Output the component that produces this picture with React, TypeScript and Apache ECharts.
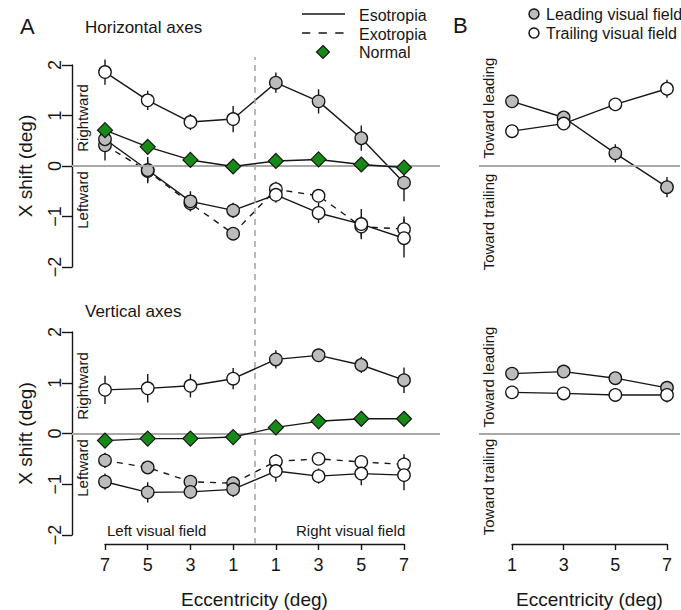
import { useEffect, useRef } from 'react';
import * as echarts from 'echarts';

// ---------- data ----------
const eccLabelsA = ['7', '5', '3', '1', '1', '3', '5', '7'];
const eccLabelsB = ['1', '3', '5', '7'];
const eccB = [1, 3, 5, 7];

// Panel A, horizontal axes (x index 0..7: left 7,5,3,1 | right 1,3,5,7)
const hEsoUpper = [1.86, 1.30, 0.87, 0.93, 1.65, 1.28, 0.55, -0.33];
const hEsoUpperErr = [0.25, 0.19, 0.16, 0.26, 0.2, 0.24, 0.25, 0.37];
const hEsoUpperField = ['T', 'T', 'T', 'T', 'L', 'L', 'L', 'L'];
const hEsoLower = [0.53, -0.08, -0.7, -0.88, -0.57, -0.93, -1.15, -1.43];
const hEsoLowerErr = [0.2, 0.26, 0.2, 0.15, 0.16, 0.2, 0.3, 0.38];
const hEsoLowerField = ['L', 'L', 'L', 'L', 'T', 'T', 'T', 'T'];
const hExo = [0.41, -0.1, -0.74, -1.34, -0.46, -0.59, -1.2, -1.25];
const hExoErr = [0.3, 0.2, 0.15, 0.1, 0.15, 0.12, 0.2, 0.25];
const hExoField = ['L', 'L', 'L', 'L', 'T', 'T', 'T', 'T'];
const hNormal = [0.71, 0.38, 0.12, -0.01, 0.1, 0.13, 0.03, -0.03];

// Panel A, vertical axes
const vEsoUpper = [0.86, 0.89, 0.94, 1.08, 1.46, 1.54, 1.35, 1.05];
const vEsoUpperErr = [0.28, 0.28, 0.23, 0.21, 0.18, 0.1, 0.16, 0.25];
const vEsoUpperField = ['T', 'T', 'T', 'T', 'L', 'L', 'L', 'L'];
const vEsoLower = [-0.95, -1.16, -1.15, -1.1, -0.74, -0.84, -0.79, -0.82];
const vEsoLowerErr = [0.16, 0.2, 0.14, 0.15, 0.21, 0.15, 0.23, 0.3];
const vEsoLowerField = ['L', 'L', 'L', 'L', 'T', 'T', 'T', 'T'];
const vExo = [-0.53, -0.67, -0.95, -0.98, -0.55, -0.5, -0.56, -0.61];
const vExoErr = [0.15, 0.12, 0.1, 0.1, 0.14, 0.12, 0.12, 0.2];
const vExoField = ['L', 'L', 'L', 'L', 'T', 'T', 'T', 'T'];
const vNormal = [-0.14, -0.1, -0.1, -0.07, 0.12, 0.24, 0.29, 0.29];

// Panel B
const bHLeading = [1.28, 0.96, 0.25, -0.42];
const bHLeadingErr = [0.08, 0.1, 0.18, 0.2];
const bHTrailing = [0.69, 0.84, 1.22, 1.53];
const bHTrailingErr = [0.05, 0.08, 0.1, 0.18];
const bVLeading = [1.18, 1.22, 1.09, 0.9];
const bVLeadingErr = [0.05, 0.05, 0.05, 0.1];
const bVTrailing = [0.81, 0.79, 0.76, 0.76];
const bVTrailingErr = [0.05, 0.05, 0.05, 0.15];

// ---------- styling ----------
const FONT = '"Liberation Sans", Arial, Helvetica, sans-serif';
const INK = '#161616';
const GRAY = '#bcbcbc';
const WHITE = '#ffffff';
const GREEN = '#168a16';
const REF = '#a8a8a8';

// layout (pixels)
const A_LEFT = 72, A_X0 = 105, A_X7 = 404, A_RIGHT = 440;
const B_LEFT = 479, B_X1 = 512, B_X7 = 667, B_RIGHT = 680;
const TOP_T = 65, TOP_H = 202, BOT_T = 332, BOT_H = 203;
const AXIS_Y = 544;

const aStep = (A_X7 - A_X0) / 7;
const aMin = -(A_X0 - A_LEFT) / aStep;
const aMax = 7 + (A_RIGHT - A_X7) / aStep;
const bStep = (B_X7 - B_X1) / 6;
const bMin = 1 - (B_X1 - B_LEFT) / bStep;
const bMax = 7 + (B_RIGHT - B_X7) / bStep;

function lineSeries(values: number[], xs: number[], fields: string[] | null, dashed: boolean, axis: number, z = 4): any {
  return {
    type: 'line',
    xAxisIndex: axis,
    yAxisIndex: axis,
    data: values.map((v, i) => ({
      value: [xs[i], v],
      itemStyle: { color: fields ? (fields[i] === 'L' ? GRAY : WHITE) : WHITE },
    })),
    symbol: 'circle',
    symbolSize: 12.5,
    showSymbol: true,
    clip: false,
    z,
    silent: true,
    lineStyle: { color: INK, width: 1.4, type: dashed ? [6, 6] : 'solid' },
    itemStyle: { borderColor: INK, borderWidth: 1.3 },
  };
}

function normalSeries(values: number[], axis: number): any {
  return {
    type: 'line',
    xAxisIndex: axis,
    yAxisIndex: axis,
    data: values.map((v, i) => [i, v]),
    symbol: 'diamond',
    symbolSize: 15,
    clip: false,
    z: 5,
    silent: true,
    lineStyle: { color: INK, width: 1.4 },
    itemStyle: { color: GREEN, borderColor: INK, borderWidth: 1.2 },
  };
}

function errSeries(values: number[], xs: number[], errs: number[], axis: number): any {
  return {
    type: 'custom',
    xAxisIndex: axis,
    yAxisIndex: axis,
    data: values.map((v, i) => [xs[i], v, errs[i]]),
    clip: false,
    silent: true,
    z: 3,
    renderItem: (_p: any, api: any) => {
      const x = api.value(0), y = api.value(1), e = api.value(2);
      const p1 = api.coord([x, y + e]);
      const p2 = api.coord([x, y - e]);
      return {
        type: 'line',
        shape: { x1: p1[0], y1: p1[1], x2: p2[0], y2: p2[1] },
        style: { stroke: INK, lineWidth: 1.4 },
      };
    },
  };
}

function zeroLine(axis: number): any {
  return {
    type: 'line',
    xAxisIndex: axis,
    yAxisIndex: axis,
    data: [],
    z: 1,
    silent: true,
    markLine: {
      symbol: 'none',
      silent: true,
      label: { show: false },
      lineStyle: { color: REF, width: 2, type: 'solid' },
      data: [{ yAxis: 0 }],
    },
  };
}

const idxA = eccLabelsA.map((_, i) => i);

function txt(text: string, x: number, y: number, size: number, opts: any = {}): any {
  return {
    type: 'text',
    x,
    y,
    rotation: opts.rotation || 0,
    silent: true,
    style: {
      text,
      x: 0,
      y: 0,
      fill: INK,
      font: `${size}px ${FONT}`,
      align: opts.align || 'left',
      textAlign: opts.align || 'left',
      verticalAlign: 'middle',
      textVerticalAlign: 'middle',
    },
  };
}

const dataYAxis = (show: boolean, gridIndex: number): any => ({
  type: 'value',
  gridIndex,
  min: -2,
  max: 2,
  interval: 1,
  show,
  name: show ? 'X shift (deg)' : '',
  nameLocation: 'middle',
  nameRotate: 90,
  nameGap: 37,
  nameTextStyle: { color: INK, fontSize: 19, fontFamily: FONT },
  axisLine: { show: true, onZero: false, lineStyle: { color: INK, width: 1.4 } },
  axisTick: { show: true, length: 10, inside: false, lineStyle: { color: INK, width: 1.4 } },
  axisLabel: {
    show: true,
    rotate: 90,
    margin: 8,
    color: INK,
    fontSize: 18,
    fontFamily: FONT,
    formatter: (v: number) => (v < 0 ? '\u2212' + Math.abs(v) : String(v)),
  },
  splitLine: { show: false },
});

export default function App() {
  const ref = useRef<HTMLDivElement>(null);

  useEffect(() => {
    document.body.style.margin = '0';
    if (!ref.current) return;
    const chart = echarts.init(ref.current, undefined, { renderer: 'svg' });

    const grids = [
      { left: A_LEFT, top: TOP_T, width: A_RIGHT - A_LEFT, height: TOP_H },
      { left: A_LEFT, top: BOT_T, width: A_RIGHT - A_LEFT, height: BOT_H },
      { left: B_LEFT, top: TOP_T, width: B_RIGHT - B_LEFT, height: TOP_H },
      { left: B_LEFT, top: BOT_T, width: B_RIGHT - B_LEFT, height: BOT_H },
      { left: A_X0, top: 57, width: A_X7 - A_X0, height: AXIS_Y - 57 },
      { left: B_X1, top: 300, width: B_X7 - B_X1, height: AXIS_Y - 300 },
    ].map((g) => ({ ...g, containLabel: false, outerBoundsMode: 'none', show: false }));

    const hiddenX = (gridIndex: number, min: number, max: number): any => ({
      type: 'value', gridIndex, min, max, show: false, splitLine: { show: false },
    });

    const xAxes = [
      hiddenX(0, aMin, aMax),
      hiddenX(1, aMin, aMax),
      hiddenX(2, bMin, bMax),
      hiddenX(3, bMin, bMax),
      {
        type: 'value',
        gridIndex: 4,
        min: 0,
        max: 7,
        interval: 1,
        position: 'bottom',
        name: 'Eccentricity (deg)',
        nameLocation: 'middle',
        nameGap: 46,
        nameTextStyle: { color: INK, fontSize: 19, fontFamily: FONT },
        axisLine: { show: true, onZero: false, lineStyle: { color: INK, width: 1.4 } },
        axisTick: { show: true, length: 6, lineStyle: { color: INK, width: 1.4 } },
        axisLabel: {
          margin: 12,
          color: INK,
          fontSize: 18,
          fontFamily: FONT,
          formatter: (v: number) => eccLabelsA[Math.round(v)] ?? '',
        },
        splitLine: { show: false },
      },
      {
        type: 'category',
        gridIndex: 5,
        data: eccLabelsB,
        boundaryGap: false,
        position: 'bottom',
        name: 'Eccentricity (deg)',
        nameLocation: 'middle',
        nameGap: 46,
        nameTextStyle: { color: INK, fontSize: 19, fontFamily: FONT },
        axisLine: { show: true, onZero: false, lineStyle: { color: INK, width: 1.4 } },
        axisTick: { show: true, length: 6, alignWithLabel: true, lineStyle: { color: INK, width: 1.4 } },
        axisLabel: { margin: 12, color: INK, fontSize: 18, fontFamily: FONT, interval: 0 },
        splitLine: { show: false },
      },
    ];

    const yAxes = [
      dataYAxis(true, 0),
      dataYAxis(true, 1),
      dataYAxis(false, 2),
      dataYAxis(false, 3),
      { type: 'value', gridIndex: 4, min: 0, max: 1, show: false, splitLine: { show: false } },
      { type: 'value', gridIndex: 5, min: 0, max: 1, show: false, splitLine: { show: false } },
    ];

    const series: any[] = [
      zeroLine(0), zeroLine(1), zeroLine(2), zeroLine(3),
      // divider between visual fields
      {
        type: 'line', xAxisIndex: 4, yAxisIndex: 4, data: [], z: 1, silent: true,
        markLine: {
          symbol: 'none', silent: true, label: { show: false },
          lineStyle: { color: REF, width: 1.6, type: [6, 5] },
          data: [{ xAxis: 3.5 }],
        },
      },
      // A horizontal
      errSeries(hExo, idxA, hExoErr, 0),
      lineSeries(hExo, idxA, hExoField, true, 0),
      errSeries(hEsoLower, idxA, hEsoLowerErr, 0),
      lineSeries(hEsoLower, idxA, hEsoLowerField, false, 0),
      errSeries(hEsoUpper, idxA, hEsoUpperErr, 0),
      lineSeries(hEsoUpper, idxA, hEsoUpperField, false, 0),
      normalSeries(hNormal, 0),
      // A vertical
      errSeries(vExo, idxA, vExoErr, 1),
      lineSeries(vExo, idxA, vExoField, true, 1),
      errSeries(vEsoLower, idxA, vEsoLowerErr, 1),
      lineSeries(vEsoLower, idxA, vEsoLowerField, false, 1),
      errSeries(vEsoUpper, idxA, vEsoUpperErr, 1),
      lineSeries(vEsoUpper, idxA, vEsoUpperField, false, 1),
      normalSeries(vNormal, 1),
      // B horizontal
      errSeries(bHLeading, eccB, bHLeadingErr, 2),
      lineSeries(bHLeading, eccB, ['L', 'L', 'L', 'L'], false, 2),
      errSeries(bHTrailing, eccB, bHTrailingErr, 2),
      lineSeries(bHTrailing, eccB, ['T', 'T', 'T', 'T'], false, 2),
      // B vertical
      errSeries(bVLeading, eccB, bVLeadingErr, 3),
      lineSeries(bVLeading, eccB, ['L', 'L', 'L', 'L'], false, 3),
      errSeries(bVTrailing, eccB, bVTrailingErr, 3),
      lineSeries(bVTrailing, eccB, ['T', 'T', 'T', 'T'], false, 3),
    ];

    const graphics: any[] = [
      txt('A', 20, 26, 22),
      txt('Horizontal axes', 85, 27, 17),
      txt('Vertical axes', 85, 311, 17),
      txt('B', 453, 25, 22),
      // legend A
      { type: 'line', silent: true, shape: { x1: 302, y1: 14, x2: 345, y2: 14 }, style: { stroke: INK, lineWidth: 1.5 } },
      { type: 'line', silent: true, shape: { x1: 302, y1: 33, x2: 345, y2: 33 }, style: { stroke: INK, lineWidth: 1.5, lineDash: [8.3, 8.3] } },
      { type: 'polygon', silent: true, shape: { points: [[323, 45.5], [329.5, 52], [323, 58.5], [316.5, 52]] }, style: { fill: GREEN, stroke: INK, lineWidth: 1.2 } },
      txt('Esotropia', 359, 15, 16),
      txt('Exotropia', 359, 34, 16),
      txt('Normal', 359, 52, 16),
      // legend B
      { type: 'circle', silent: true, shape: { cx: 534, cy: 14, r: 5 }, style: { fill: GRAY, stroke: INK, lineWidth: 1.5 } },
      { type: 'circle', silent: true, shape: { cx: 534, cy: 33, r: 5 }, style: { fill: WHITE, stroke: INK, lineWidth: 1.5 } },
      txt('Leading visual field', 546, 14, 16),
      txt('Trailing visual field', 546, 33, 16),
      // direction labels
      txt('Rightward', 82, 118, 15, { rotation: Math.PI / 2, align: 'center' }),
      txt('Leftward', 82, 200, 15, { rotation: Math.PI / 2, align: 'center' }),
      txt('Rightward', 82, 386, 15, { rotation: Math.PI / 2, align: 'center' }),
      txt('Leftward', 82, 468, 15, { rotation: Math.PI / 2, align: 'center' }),
      txt('Toward leading', 488, 108, 15, { rotation: Math.PI / 2, align: 'center' }),
      txt('Toward trailing', 488, 222, 15, { rotation: Math.PI / 2, align: 'center' }),
      txt('Toward leading', 488, 377, 15, { rotation: Math.PI / 2, align: 'center' }),
      txt('Toward trailing', 488, 487, 15, { rotation: Math.PI / 2, align: 'center' }),
      txt('Left visual field', 107, 530, 15),
      txt('Right visual field', 296, 530, 15),
    ];

    chart.setOption({
      animation: false,
      backgroundColor: '#ffffff',
      textStyle: { fontFamily: FONT },
      grid: grids,
      xAxis: xAxes,
      yAxis: yAxes,
      series,
      graphic: graphics,
    });

    return () => chart.dispose();
  }, []);

  return <div ref={ref} style={{ width: 681, height: 610, display: 'block' }} />;
}
